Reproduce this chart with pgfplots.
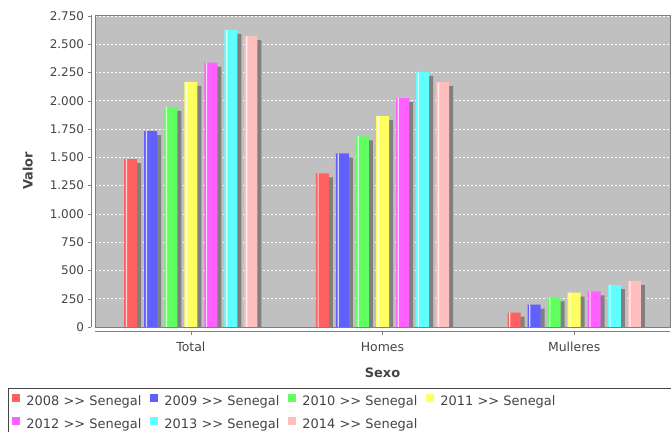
\documentclass[border=0pt]{standalone}
\usepackage{fontspec}
\setmainfont{DejaVu Sans}
\usepackage{pgfplots}
\usepackage{pgfplotstable}
\pgfplotsset{compat=1.18}
\definecolor{c1}{RGB}{255,96,96}
\definecolor{c2}{RGB}{96,96,255}
\definecolor{c3}{RGB}{96,255,96}
\definecolor{c4}{RGB}{255,255,96}
\definecolor{c5}{RGB}{255,96,255}
\definecolor{c6}{RGB}{96,255,255}
\definecolor{c7}{RGB}{255,190,190}
\definecolor{bg}{RGB}{192,192,192}
\definecolor{shd}{RGB}{128,128,128}
\definecolor{txt}{RGB}{68,68,68}
\pgfplotstableread{
x y2008 y2009 y2010 y2011 y2012 y2013 y2014
0 1484 1731 1946 2167 2338 2626 2571
1 1357 1534 1684 1864 2023 2255 2164
2 127 197 262 303 315 371 407
}\data
\newcommand{\legtxt}[2]{\makebox[#1][l]{#2 >{}> Senegal}}
\pgfplotsset{
  shadowbar/.style={ybar, forget plot, bar width=13bp, bar shift=#1, yshift=-4bp, fill=shd, draw=none},
  stripe/.style={ybar, forget plot, bar width=1.2bp, bar shift=#1, fill=white, fill opacity=0.75, draw=none},
}
\begin{document}
\begin{tikzpicture}
\useasboundingbox (0,0) rectangle (671bp,432bp);
\begin{axis}[
  at={(95bp,105bp)}, anchor=south west,
  scale only axis, width=575bp, height=312bp,
  xmin=-0.5, xmax=2.5, ymin=0, ymax=2758,
  axis background/.style={fill=bg},
  separate axis lines,
  axis x line*=bottom, axis y line*=left,
  axis x line shift=4bp, axis y line shift=4bp,
  axis line style={shd, -},
  xtick={0,1,2}, xticklabels={Total,Homes,Mulleres},
  ytick={0,250,...,2750},
  /pgf/number format/1000 sep={.},
  /pgf/number format/assume math mode=true,
  tick align=outside, major tick length=3.5bp,
  tick style={shd},
  xticklabel style={font=\fontsize{12.5}{14}\selectfont, text=txt, yshift=-4bp},
  yticklabel style={font=\fontsize{12}{13}\selectfont, text=txt},
  ymajorgrids,
  major grid style={white, dash pattern=on 2bp off 2bp, line width=0.6bp},
  xlabel={\textbf{Sexo}}, ylabel={\textbf{Valor}},
  label style={font=\fontsize{13}{15}\selectfont, text=txt},
  xlabel style={yshift=-9bp},
  ylabel style={yshift=10bp},
  legend columns=4,
  legend image code/.code={\fill[#1] (0bp,0bp) rectangle (7.5bp,7.5bp);},
  legend style={at={(-0.1513,-0.1955)}, anchor=north west,
    draw=txt, line width=1bp, fill=white,
    inner xsep=4bp, inner ysep=6bp,
    font=\fontsize{13}{15}\selectfont, text=txt,
    nodes={inner sep=0pt, text height=10bp, text depth=3bp},
    row sep=9bp,
    /tikz/every odd column/.append style={column sep=6.5bp},
    /tikz/every even column/.append style={column sep=0bp}},
  after end axis/.code={\draw[gray, line width=0.8bp] (rel axis cs:0,0) rectangle (rel axis cs:1,1);},
]
% shadows
\addplot[shadowbar=-56.15bp] table[x=x,y=y2008] {\data};
\addplot[shadowbar=-36.1bp] table[x=x,y=y2009] {\data};
\addplot[shadowbar=-16.05bp] table[x=x,y=y2010] {\data};
\addplot[shadowbar=4bp] table[x=x,y=y2011] {\data};
\addplot[shadowbar=24.05bp] table[x=x,y=y2012] {\data};
\addplot[shadowbar=44.1bp] table[x=x,y=y2013] {\data};
\addplot[shadowbar=64.15bp] table[x=x,y=y2014] {\data};
% bars
\addplot[ybar, bar width=13bp, bar shift=-60.15bp, fill=c1, draw=none] table[x=x,y=y2008] {\data};
\addlegendentry{\legtxt{124bp}{2008}}
\addplot[ybar, bar width=13bp, bar shift=-40.1bp, fill=c2, draw=none] table[x=x,y=y2009] {\data};
\addlegendentry{\legtxt{124bp}{2009}}
\addplot[ybar, bar width=13bp, bar shift=-20.05bp, fill=c3, draw=none] table[x=x,y=y2010] {\data};
\addlegendentry{\legtxt{124bp}{2010}}
\addplot[ybar, bar width=13bp, bar shift=0bp, fill=c4, draw=none] table[x=x,y=y2011] {\data};
\addlegendentry{\legtxt{230bp}{2011}}
\addplot[ybar, bar width=13bp, bar shift=20.05bp, fill=c5, draw=none] table[x=x,y=y2012] {\data};
\addlegendentry{\legtxt{124bp}{2012}}
\addplot[ybar, bar width=13bp, bar shift=40.1bp, fill=c6, draw=none] table[x=x,y=y2013] {\data};
\addlegendentry{\legtxt{124bp}{2013}}
\addplot[ybar, bar width=13bp, bar shift=60.15bp, fill=c7, draw=none] table[x=x,y=y2014] {\data};
\addlegendentry{\legtxt{124bp}{2014}}
% highlight stripes
\addplot[stripe=-64.4bp] table[x=x,y=y2008] {\data};
\addplot[stripe=-44.35bp] table[x=x,y=y2009] {\data};
\addplot[stripe=-24.3bp] table[x=x,y=y2010] {\data};
\addplot[stripe=-4.25bp] table[x=x,y=y2011] {\data};
\addplot[stripe=15.8bp] table[x=x,y=y2012] {\data};
\addplot[stripe=35.85bp] table[x=x,y=y2013] {\data};
\addplot[stripe=55.9bp] table[x=x,y=y2014] {\data};
\end{axis}
\end{tikzpicture}
\end{document}
